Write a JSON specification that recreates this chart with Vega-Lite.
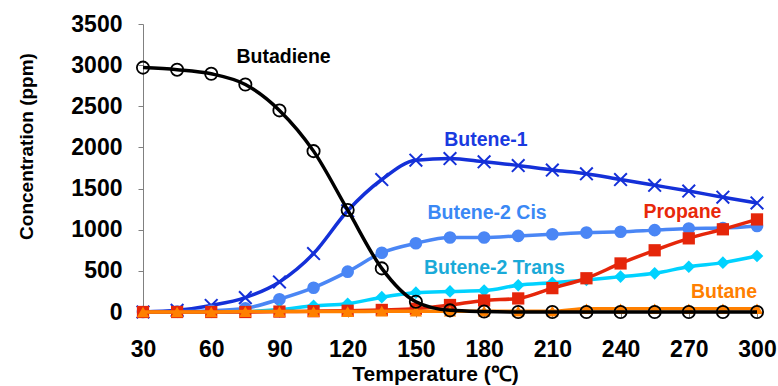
{
  "$schema": "https://vega.github.io/schema/vega-lite/v6.json",
  "width": 614,
  "height": 288,
  "autosize": "none",
  "padding": {"left": 143, "top": 24, "right": 21, "bottom": 74},
  "background": "white",
  "config": {
    "view": {"stroke": null},
    "font": "Liberation Sans"
  },
  "datasets": {
    "series": [
      {"s": "Butadiene", "t": 30, "c": 2970}, {"s": "Butadiene", "t": 45, "c": 2945}, {"s": "Butadiene", "t": 60, "c": 2895}, {"s": "Butadiene", "t": 75, "c": 2765}, {"s": "Butadiene", "t": 90, "c": 2450}, {"s": "Butadiene", "t": 105, "c": 1955}, {"s": "Butadiene", "t": 120, "c": 1240}, {"s": "Butadiene", "t": 135, "c": 530}, {"s": "Butadiene", "t": 150, "c": 125}, {"s": "Butadiene", "t": 165, "c": 20}, {"s": "Butadiene", "t": 180, "c": 5}, {"s": "Butadiene", "t": 195, "c": 0}, {"s": "Butadiene", "t": 210, "c": 0}, {"s": "Butadiene", "t": 225, "c": 0}, {"s": "Butadiene", "t": 240, "c": 0}, {"s": "Butadiene", "t": 255, "c": 0}, {"s": "Butadiene", "t": 270, "c": 0}, {"s": "Butadiene", "t": 285, "c": 0}, {"s": "Butadiene", "t": 300, "c": 0},
      {"s": "Butene-1", "t": 30, "c": 0}, {"s": "Butene-1", "t": 45, "c": 20}, {"s": "Butene-1", "t": 60, "c": 80}, {"s": "Butene-1", "t": 75, "c": 175}, {"s": "Butene-1", "t": 90, "c": 365}, {"s": "Butene-1", "t": 105, "c": 710}, {"s": "Butene-1", "t": 120, "c": 1230}, {"s": "Butene-1", "t": 135, "c": 1610}, {"s": "Butene-1", "t": 150, "c": 1845}, {"s": "Butene-1", "t": 165, "c": 1865}, {"s": "Butene-1", "t": 180, "c": 1825}, {"s": "Butene-1", "t": 195, "c": 1780}, {"s": "Butene-1", "t": 210, "c": 1725}, {"s": "Butene-1", "t": 225, "c": 1680}, {"s": "Butene-1", "t": 240, "c": 1610}, {"s": "Butene-1", "t": 255, "c": 1540}, {"s": "Butene-1", "t": 270, "c": 1470}, {"s": "Butene-1", "t": 285, "c": 1395}, {"s": "Butene-1", "t": 300, "c": 1325},
      {"s": "Butene-2 Cis", "t": 30, "c": 0}, {"s": "Butene-2 Cis", "t": 45, "c": 5}, {"s": "Butene-2 Cis", "t": 60, "c": 15}, {"s": "Butene-2 Cis", "t": 75, "c": 45}, {"s": "Butene-2 Cis", "t": 90, "c": 155}, {"s": "Butene-2 Cis", "t": 105, "c": 295}, {"s": "Butene-2 Cis", "t": 120, "c": 490}, {"s": "Butene-2 Cis", "t": 135, "c": 720}, {"s": "Butene-2 Cis", "t": 150, "c": 835}, {"s": "Butene-2 Cis", "t": 165, "c": 905}, {"s": "Butene-2 Cis", "t": 180, "c": 905}, {"s": "Butene-2 Cis", "t": 195, "c": 925}, {"s": "Butene-2 Cis", "t": 210, "c": 945}, {"s": "Butene-2 Cis", "t": 225, "c": 965}, {"s": "Butene-2 Cis", "t": 240, "c": 975}, {"s": "Butene-2 Cis", "t": 255, "c": 995}, {"s": "Butene-2 Cis", "t": 270, "c": 1015}, {"s": "Butene-2 Cis", "t": 285, "c": 1020}, {"s": "Butene-2 Cis", "t": 300, "c": 1045},
      {"s": "Butene-2 Trans", "t": 30, "c": 0}, {"s": "Butene-2 Trans", "t": 45, "c": 0}, {"s": "Butene-2 Trans", "t": 60, "c": 0}, {"s": "Butene-2 Trans", "t": 75, "c": 5}, {"s": "Butene-2 Trans", "t": 90, "c": 30}, {"s": "Butene-2 Trans", "t": 105, "c": 75}, {"s": "Butene-2 Trans", "t": 120, "c": 100}, {"s": "Butene-2 Trans", "t": 135, "c": 180}, {"s": "Butene-2 Trans", "t": 150, "c": 235}, {"s": "Butene-2 Trans", "t": 165, "c": 250}, {"s": "Butene-2 Trans", "t": 180, "c": 260}, {"s": "Butene-2 Trans", "t": 195, "c": 325}, {"s": "Butene-2 Trans", "t": 210, "c": 355}, {"s": "Butene-2 Trans", "t": 225, "c": 390}, {"s": "Butene-2 Trans", "t": 240, "c": 430}, {"s": "Butene-2 Trans", "t": 255, "c": 470}, {"s": "Butene-2 Trans", "t": 270, "c": 550}, {"s": "Butene-2 Trans", "t": 285, "c": 600}, {"s": "Butene-2 Trans", "t": 300, "c": 680},
      {"s": "Propane", "t": 30, "c": 0}, {"s": "Propane", "t": 45, "c": 0}, {"s": "Propane", "t": 60, "c": 0}, {"s": "Propane", "t": 75, "c": 0}, {"s": "Propane", "t": 90, "c": 5}, {"s": "Propane", "t": 105, "c": 10}, {"s": "Propane", "t": 120, "c": 15}, {"s": "Propane", "t": 135, "c": 25}, {"s": "Propane", "t": 150, "c": 40}, {"s": "Propane", "t": 165, "c": 85}, {"s": "Propane", "t": 180, "c": 140}, {"s": "Propane", "t": 195, "c": 165}, {"s": "Propane", "t": 210, "c": 290}, {"s": "Propane", "t": 225, "c": 410}, {"s": "Propane", "t": 240, "c": 590}, {"s": "Propane", "t": 255, "c": 750}, {"s": "Propane", "t": 270, "c": 895}, {"s": "Propane", "t": 285, "c": 1005}, {"s": "Propane", "t": 300, "c": 1125},
      {"s": "Butane", "t": 30, "c": 0}, {"s": "Butane", "t": 45, "c": 0}, {"s": "Butane", "t": 60, "c": 0}, {"s": "Butane", "t": 75, "c": 5}, {"s": "Butane", "t": 90, "c": 5}, {"s": "Butane", "t": 105, "c": 5}, {"s": "Butane", "t": 120, "c": 5}, {"s": "Butane", "t": 135, "c": 10}, {"s": "Butane", "t": 150, "c": 10}, {"s": "Butane", "t": 165, "c": 10}, {"s": "Butane", "t": 180, "c": 10}, {"s": "Butane", "t": 195, "c": 10}, {"s": "Butane", "t": 210, "c": 10}, {"s": "Butane", "t": 225, "c": 40}, {"s": "Butane", "t": 240, "c": 40}, {"s": "Butane", "t": 255, "c": 40}, {"s": "Butane", "t": 270, "c": 40}, {"s": "Butane", "t": 285, "c": 40}, {"s": "Butane", "t": 300, "c": 40}
    ],
    "labels": [
      {"name": "Butadiene", "t": 91.8, "c": 3100, "col": "#000000"},
      {"name": "Butene-1", "t": 180.8, "c": 2085, "col": "#1a3ae0"},
      {"name": "Butene-2 Cis", "t": 181.3, "c": 1200, "col": "#3a88f5"},
      {"name": "Propane", "t": 267.2, "c": 1215, "col": "#e8280a"},
      {"name": "Butene-2 Trans", "t": 184.5, "c": 530, "col": "#1aaad8"},
      {"name": "Butane", "t": 285.5, "c": 245, "col": "#ff7f00"}
    ]
  },
  "data": {"name": "series"},
  "encoding": {
    "x": {
      "field": "t", "type": "quantitative",
      "scale": {"domain": [30, 300], "nice": false, "zero": false},
      "axis": {
        "values": [30, 60, 90, 120, 150, 180, 210, 240, 270, 300],
        "format": "d",
        "grid": false, "title": "Temperature (\u2103)",
        "labelFont": "Liberation Sans", "labelFontSize": 23, "labelFontWeight": "bold", "labelColor": "#000",
        "titleFont": "Liberation Sans", "titleFontSize": 21, "titleFontWeight": "bold", "titleColor": "#000",
        "tickSize": 5, "tickColor": "#808080", "domainColor": "#808080",
        "labelPadding": 21, "titlePadding": 2, "titleX": 292, "labelFlush": false
      }
    },
    "y": {
      "field": "c", "type": "quantitative",
      "scale": {"domain": [0, 3500], "nice": false},
      "axis": {
        "values": [0, 500, 1000, 1500, 2000, 2500, 3000, 3500],
        "format": "d",
        "grid": false, "title": "Concentration (ppm)",
        "labelFont": "Liberation Sans", "labelFontSize": 23, "labelFontWeight": "bold", "labelColor": "#000",
        "titleFont": "Liberation Sans", "titleFontSize": 19, "titleFontWeight": "bold", "titleColor": "#000",
        "tickSize": 5, "tickColor": "#808080", "domainColor": "#808080",
        "labelPadding": 16, "titlePadding": 34, "titleY": 122, "labelFlush": false
      }
    }
  },
  "layer": [
    {
      "transform": [{"filter": "datum.s == 'Butene-1'"}],
      "layer": [
        {"mark": {"type": "line", "color": "#1430d8", "strokeWidth": 3.5, "interpolate": "monotone"}, "encoding": {}},
        {"mark": {"type": "point", "shape": "M-1,-1L1,1M-1,1L1,-1", "filled": false, "stroke": "#1430d8", "strokeWidth": 2, "size": 160, "opacity": 1}, "encoding": {}}
      ]
    },
    {
      "transform": [{"filter": "datum.s == 'Butene-2 Cis'"}],
      "layer": [
        {"mark": {"type": "line", "color": "#4a86f5", "strokeWidth": 3.5, "interpolate": "monotone"}, "encoding": {}},
        {"mark": {"type": "point", "shape": "circle", "filled": true, "color": "#4a86f5", "size": 160, "opacity": 1}, "encoding": {}}
      ]
    },
    {
      "transform": [{"filter": "datum.s == 'Butene-2 Trans'"}],
      "layer": [
        {"mark": {"type": "line", "color": "#00d2ff", "strokeWidth": 3.5, "interpolate": "monotone"}, "encoding": {}},
        {"mark": {"type": "point", "shape": "diamond", "filled": true, "color": "#00d2ff", "size": 160, "opacity": 1}, "encoding": {}}
      ]
    },
    {
      "transform": [{"filter": "datum.s == 'Propane'"}],
      "layer": [
        {"mark": {"type": "line", "color": "#e5260a", "strokeWidth": 3.5, "interpolate": "monotone"}, "encoding": {}},
        {"mark": {"type": "point", "shape": "square", "filled": true, "color": "#e5260a", "size": 150, "opacity": 1}, "encoding": {}}
      ]
    },
    {
      "transform": [{"filter": "datum.s == 'Butane'"}],
      "layer": [
        {"mark": {"type": "line", "color": "#ff8000", "strokeWidth": 3.5, "interpolate": "monotone"}, "encoding": {}},
        {"mark": {"type": "point", "shape": "triangle-up", "filled": true, "color": "#ff8000", "size": 150, "opacity": 1}, "encoding": {}}
      ]
    },
    {
      "transform": [{"filter": "datum.s == 'Butadiene'"}],
      "layer": [
        {"mark": {"type": "line", "color": "#000000", "strokeWidth": 3.5, "interpolate": "monotone"}, "encoding": {}},
        {"mark": {"type": "point", "shape": "circle", "filled": false, "stroke": "#000000", "fill": "transparent", "strokeWidth": 1.8, "size": 150, "opacity": 1}, "encoding": {}}
      ]
    },
    {
      "data": {"name": "labels"},
      "mark": {"type": "text", "font": "Liberation Sans", "fontSize": 19.5, "fontWeight": "bold", "align": "center", "baseline": "middle"},
      "encoding": {
        "text": {"field": "name"},
        "color": {"field": "col", "type": "nominal", "scale": null}
      }
    }
  ]
}
